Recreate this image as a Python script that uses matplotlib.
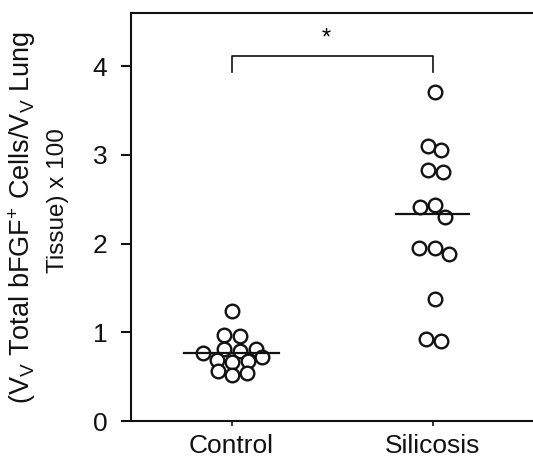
import matplotlib
matplotlib.use("Agg")
import matplotlib.pyplot as plt

plt.rcParams['font.family'] = ['Liberation Sans', 'DejaVu Sans']
plt.rcParams['mathtext.fontset'] = 'custom'
plt.rcParams['mathtext.rm'] = 'Liberation Sans'

# data
groups = ['Control', 'Silicosis']
control_vals = [1.24, 0.97, 0.96, 0.77, 0.81, 0.79, 0.81, 0.72, 0.69, 0.67, 0.68, 0.56, 0.52, 0.54]
control_jitter = [0.0, -0.035, 0.04, -0.14, -0.035, 0.04, 0.12, 0.15, -0.073, 0.0, 0.08, -0.068, 0.0, 0.078]
silicosis_vals = [3.71, 3.10, 3.05, 2.83, 2.81, 2.41, 2.43, 2.30, 1.95, 1.95, 1.88, 1.38, 0.93, 0.90]
silicosis_jitter = [0.01, -0.02, 0.04, -0.02, 0.05, -0.06, 0.01, 0.06, -0.065, 0.01, 0.08, 0.01, -0.03, 0.04]
medians = [0.77, 2.33]
yticks = [0, 1, 2, 3, 4]

fig = plt.figure(figsize=(5.33, 4.65), dpi=100)
ax = fig.add_axes([131/533, 44/465, 402/533, 408/465])

for i, (vals, jit) in enumerate([(control_vals, control_jitter), (silicosis_vals, silicosis_jitter)]):
    ax.plot([i + j for j in jit], vals, 'o', ms=9.8, mew=1.7, mfc='white', mec='#111111',
            linestyle='none', zorder=3, clip_on=False)

# median lines
half_w = [0.235, 0.18]
for i, m in enumerate(medians):
    ax.plot([i - half_w[i], i + half_w[i]], [m, m], color='#111111', lw=1.6, zorder=4)

# significance bracket
ax.plot([0, 0, 1, 1], [3.94, 4.12, 4.12, 3.94], color='#111111', lw=1.2, clip_on=False)
ax.text(0.47, 4.31, '*', ha='center', va='center', fontsize=17)

ax.set_xlim(-0.5, 1.5)
ax.set_ylim(0, 4.6)
ax.set_xticks([0, 1])
ax.set_xticklabels(groups, fontsize=19)
ax.set_yticks(yticks)
ax.set_yticklabels([str(t) for t in yticks], fontsize=19)
ax.tick_params(axis='y', direction='out', length=7, width=1.5, pad=10, colors='#111111')
ax.tick_params(axis='x', direction='out', length=3.5, width=1.2, pad=6, colors='#111111')
ax.spines['right'].set_visible(False)
for s in ['left', 'bottom', 'top']:
    ax.spines[s].set_linewidth(1.5)
    ax.spines[s].set_color('#111111')

fig.text(22/533, 1 - 218/465, r'(V$_\mathrm{V}$ Total bFGF$^\mathrm{+}$ Cells/V$_\mathrm{V}$ Lung',
         rotation=90, ha='center', va='center', fontsize=19.5, color='#111111')
fig.text(58/533, 1 - 201/465, 'Tissue) x 100', rotation=90, ha='center', va='center',
         fontsize=17.5, color='#111111')

fig.savefig('out.png', dpi=100)
